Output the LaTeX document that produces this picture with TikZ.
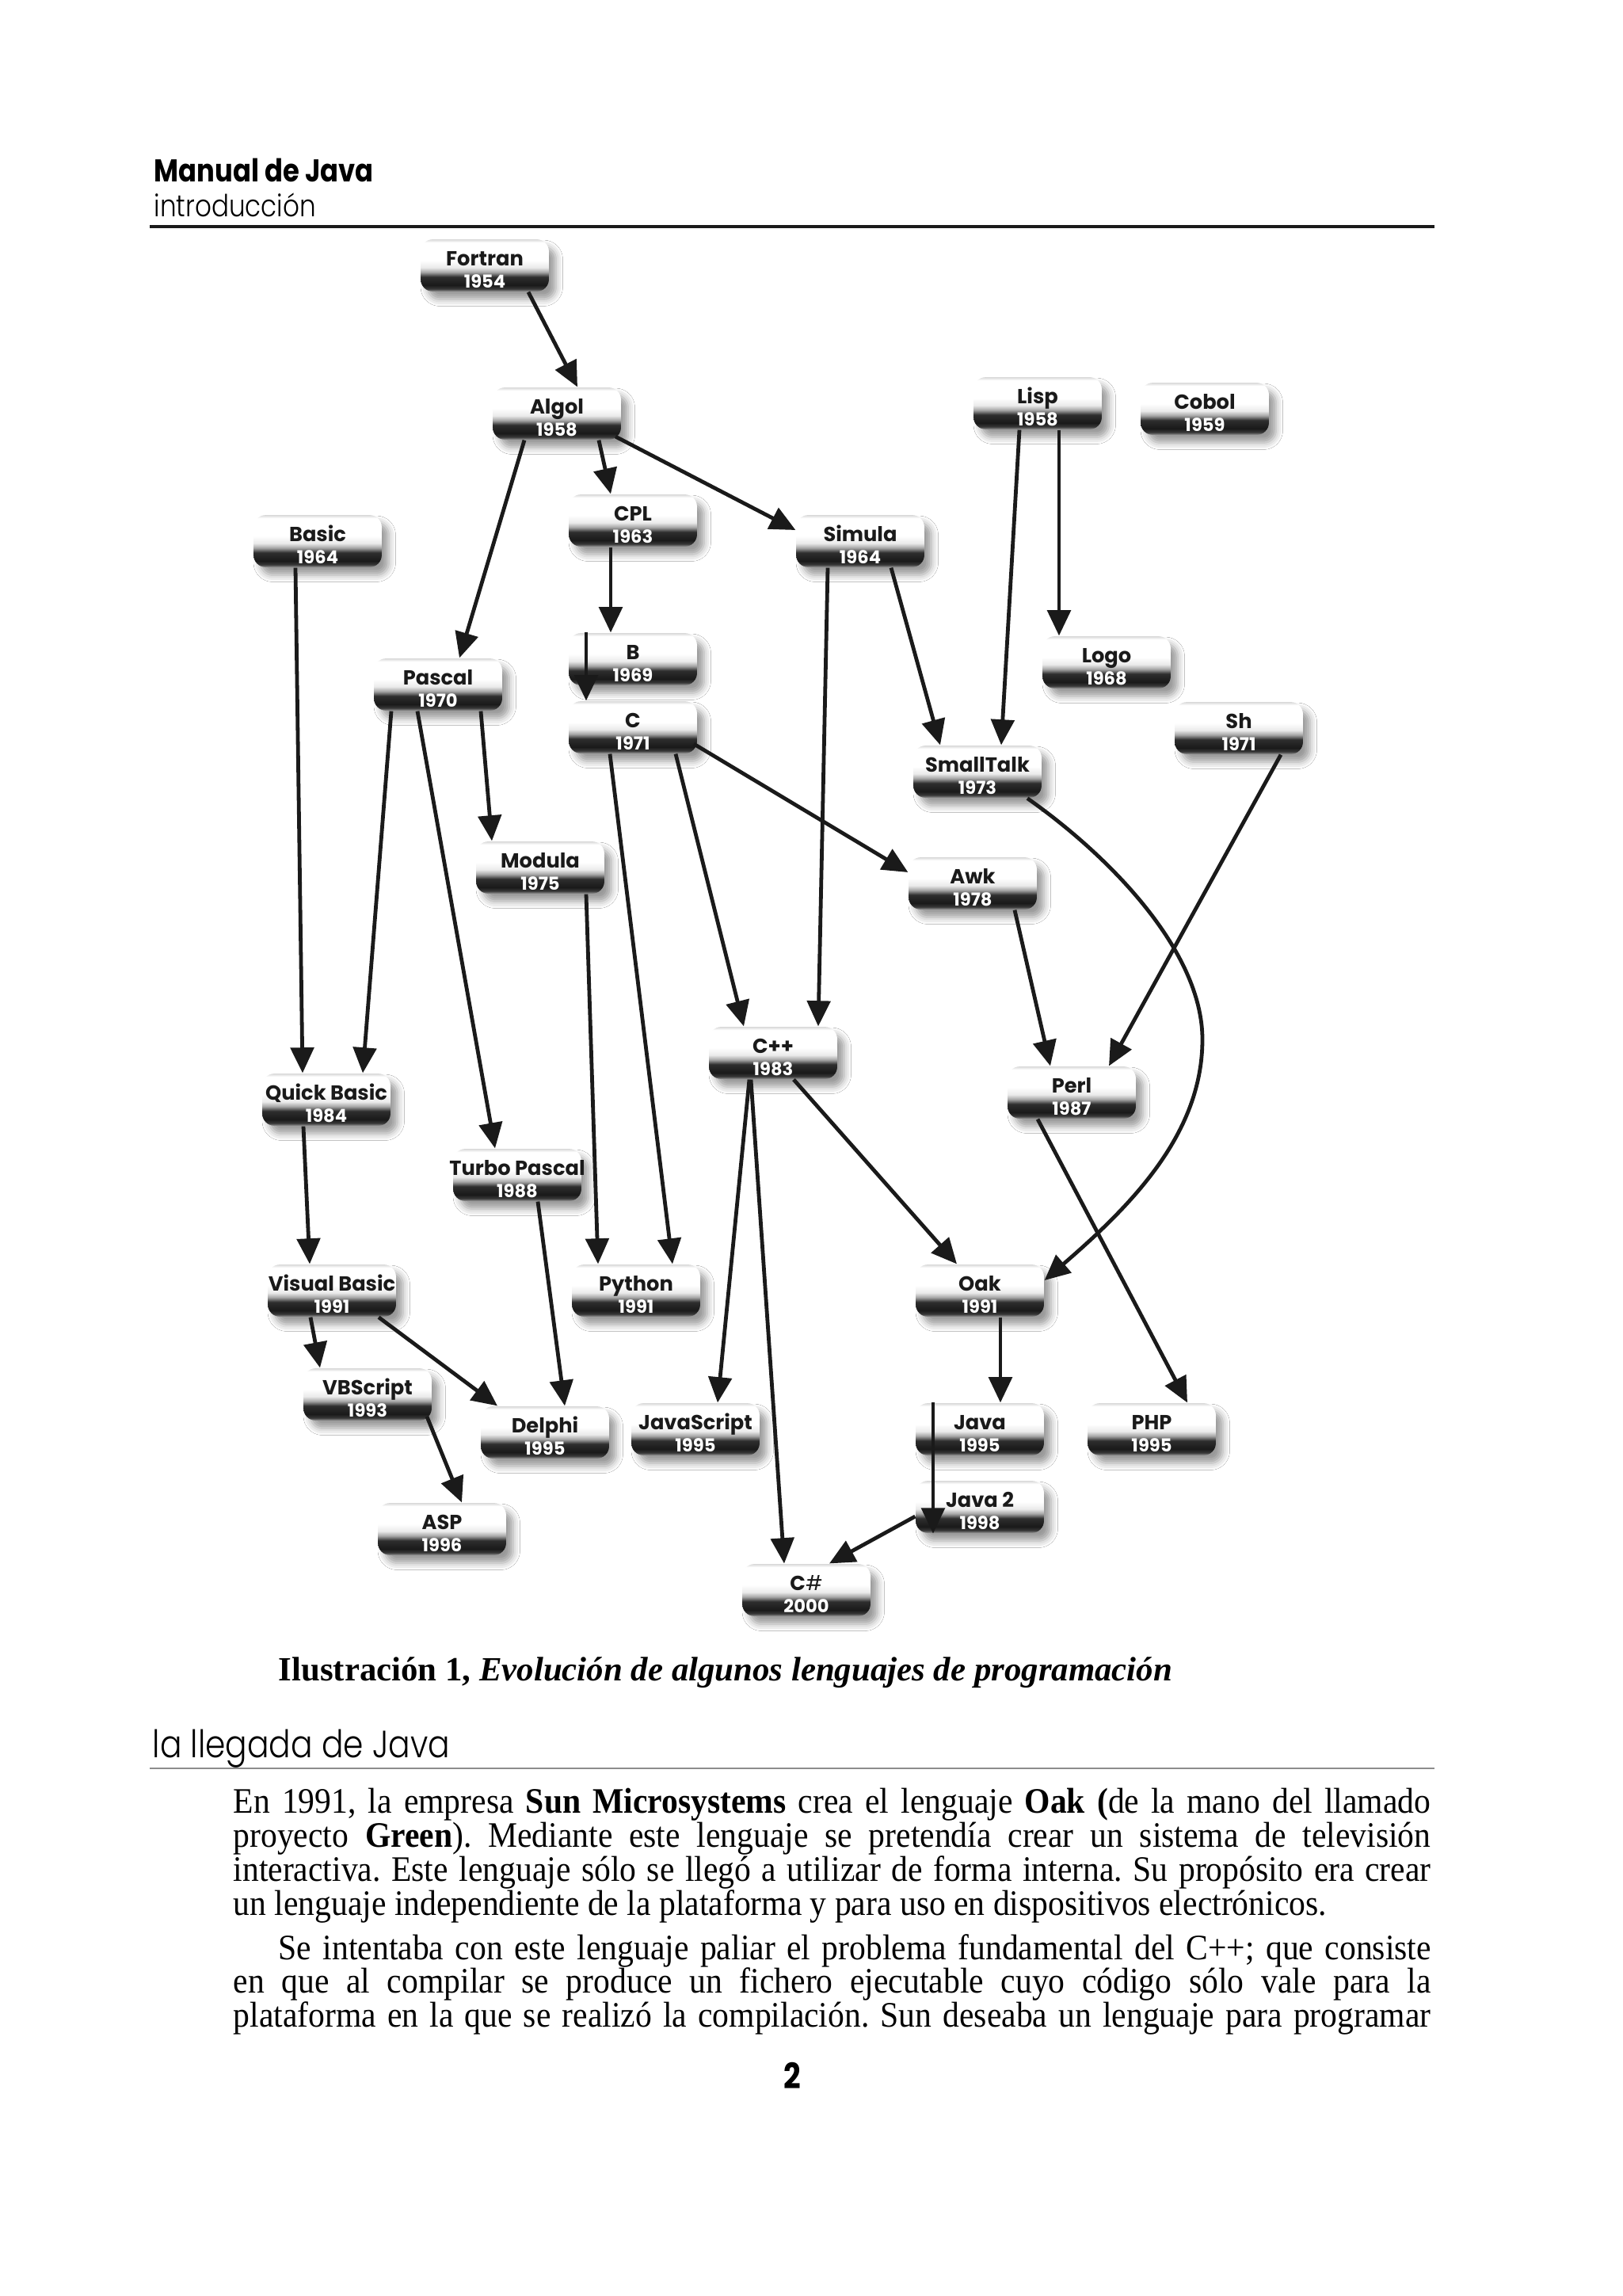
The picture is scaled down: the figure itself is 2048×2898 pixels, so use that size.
\documentclass[tikz,border=0pt]{standalone}
\usepackage{fontspec}
\setmainfont{Liberation Serif}[FakeStretch=0.92]
\newfontfamily\capfont{Liberation Serif}
\newfontfamily\futura{Poppins}
\newfontfamily\futurahead{Poppins}[FakeStretch=0.85]
\newfontfamily\futuralight{Poppins Light}[FakeStretch=0.85]
\usetikzlibrary{arrows.meta,calc,shadows.blur}
\definecolor{ink}{HTML}{1A1A1A}
\definecolor{rulegray}{HTML}{8C8C8C}
\pgfdeclareverticalshading{pillshade}{100bp}{%
  color(0bp)=(black!40); color(25bp)=(black!40); color(27.5bp)=(black!78);
  color(31bp)=(black!90); color(39bp)=(black!82); color(43.5bp)=(black!35);
  color(48bp)=(black!8); color(55bp)=(white); color(72bp)=(white);
  color(75bp)=(black!15); color(100bp)=(black!15)}
\tikzset{
  pill/.style={rounded corners=4.5pt,minimum width=16.6mm,minimum height=6.75mm,
               inner sep=0pt,shading=pillshade,
               blur shadow={shadow xshift=0.9mm,shadow yshift=-1.0mm,
                            shadow blur radius=0.9mm,shadow opacity=40}},
  langname/.style={font=\futura\bfseries\fontsize{7.5}{8}\selectfont,
                   text=ink,inner sep=0pt,anchor=base},
  langyear/.style={font=\futura\bfseries\fontsize{6.6}{8}\selectfont,
                   text=white,inner sep=0pt,anchor=base},
  evol/.style={-{Triangle[length=3.3mm,width=3.0mm]},line width=1.4pt,draw=ink},
  bodyline/.style={anchor=base west,inner sep=0pt,font=\fontsize{13.2}{15}\selectfont}
}
\frenchspacing

\begin{document}
\begin{tikzpicture}[x=0.10254mm,y=-0.10254mm]
  \fill[white] (0,0) rectangle (2048,2898);
  \useasboundingbox (0,0) rectangle (2048,2898);

  % running head
  \node[anchor=base west,inner sep=0pt,font=\futurahead\bfseries\fontsize{11.6}{13}\selectfont]
    (title) at (194,229) {Manual de Java};
  \node[anchor=base west,inner sep=0pt,font=\futuralight\fontsize{11.2}{13}\selectfont]
    (subtitle) at (194,273) {introducción};
  \draw[ink,line width=1pt] (189,286) -- (1811,286);

  % the languages
  \foreach \id/\x/\y/\nm/\yr in {
      fortran/612/335/Fortran/1954, algol/703/522/Algol/1958,
      lisp/1310/509/Lisp/1958, cobol/1521/516/Cobol/1959,
      cpl/799/657/CPL/1963, basic/401/683/Basic/1964,
      simula/1086/683/Simula/1964, b/799/832/B/1969,
      logo/1397/836/Logo/1968, pascal/553/864/Pascal/1970,
      c/799/918/C/1971, sh/1564/919/Sh/1971,
      smalltalk/1234/974/SmallTalk/1973, modula/682/1095/Modula/1975,
      awk/1228/1115/Awk/1978, cpp/976/1329/C++/1983,
      quickbasic/412/1388/Quick Basic/1984, perl/1353/1379/Perl/1987,
      turbopascal/653/1483/Turbo Pascal/1988,
      visualbasic/419/1629/Visual Basic/1991, python/803/1629/Python/1991,
      oak/1237/1629/Oak/1991, vbscript/464/1760/VBScript/1993,
      delphi/688/1808/Delphi/1995, javascript/878/1804/JavaScript/1995,
      java/1237/1804/Java/1995, php/1454/1804/PHP/1995,
      javatwo/1237/1902/Java 2/1998, asp/558/1930/ASP/1996,
      csharp/1018/2007/{C{\mdseries\#}}/2000} {
    \node[pill] (\id) at (\x,\y) {};
    \node[langname] (\id-n) at (\id.center) {\nm};
    \node[langyear] (\id-y) at ($(\id.center)+(0,28)$) {\yr};
  }

  % descent
  \draw[evol] ($(fortran.south)+(55,0)$) -- ($(algol.north)+(26,0)$);
  \draw[evol] ($(algol.south)+(-41,0)$) -- ($(pascal.north)+(27,0)$);
  \draw[evol] ($(algol.south)+(53,0)$) -- ($(cpl.north)+(-28,0)$);
  \draw[evol] ($(algol.center)+(74,29)$) -- ($(simula.west)+(0,-14)$);
  \draw[evol] ($(cpl.south)+(-28,0)$) -- ($(b.north)+(-28,0)$);
  \draw[evol] ($(b.north)+(-59,0)$) -- ($(c.north)+(-59,0)$);
  \draw[evol] ($(basic.south)+(-28,0)$) -- ($(quickbasic.north)+(-30,0)$);
  \draw[evol] ($(pascal.south)+(-59,0)$) -- ($(quickbasic.north)+(46,0)$);
  \draw[evol] ($(pascal.south)+(-26,0)$) -- ($(turbopascal.north)+(-28,0)$);
  \draw[evol] ($(pascal.south)+(54,0)$) -- ($(modula.north)+(-61,0)$);
  \draw[evol] ($(modula.south)+(58,0)$) -- ($(python.north)+(-48,0)$);
  \draw[evol] ($(c.south)+(-29,0)$) -- ($(python.north)+(46,0)$);
  \draw[evol] ($(c.south)+(54,0)$) -- ($(cpp.north)+(-37,0)$);
  \draw[evol] ($(c.center)+(77,21)$) -- ($(awk.west)+(0,-14)$);
  \draw[evol] ($(simula.south)+(-41,0)$) -- ($(cpp.north)+(57,0)$);
  \draw[evol] ($(simula.south)+(39,0)$) -- ($(smalltalk.north)+(-47,0)$);
  \draw[evol] ($(lisp.south)+(-23,0)$) -- ($(smalltalk.north)+(30,0)$);
  \draw[evol] ($(lisp.south)+(27,0)$) -- ($(logo.north)+(-60,0)$);
  \coordinate (st-bend) at (1518,1312);
  \draw[evol] ($(smalltalk.south)+(63,0)$) .. controls (1400,1080) and (1518,1200) .. (st-bend)
    .. controls (1518,1430) and (1430,1520) .. ($(oak.east)+(0,-13)$);
  \draw[evol] ($(sh.south)+(53,0)$) -- ($(perl.north)+(47,0)$);
  \draw[evol] ($(awk.south)+(53,0)$) -- ($(perl.north)+(-27,0)$);
  \draw[evol] ($(cpp.south)+(26,0)$) -- ($(oak.north)+(-29,0)$);
  \draw[evol] ($(cpp.south)+(-30,0)$) -- ($(javascript.north)+(28,0)$);
  \draw[evol] ($(cpp.south)+(-28,0)$) -- ($(csharp.north)+(-28,0)$);
  \draw[evol] ($(perl.south)+(-43,0)$) -- ($(php.north)+(45,0)$);
  \draw[evol] ($(oak.south)+(26,0)$) -- ($(java.north)+(26,0)$);
  \draw[evol] ($(java.north)+(-59,0)$) -- ($(javatwo.south)+(-59,0)$);
  \draw[evol] ($(javatwo.west)+(0,12)$) -- ($(csharp.north)+(29,0)$);
  \draw[evol] ($(quickbasic.south)+(-29,0)$) -- ($(visualbasic.north)+(-28,0)$);
  \draw[evol] ($(visualbasic.south)+(-27,0)$) -- ($(vbscript.north)+(-60,0)$);
  \draw[evol] ($(visualbasic.south)+(59,0)$) -- ($(delphi.north)+(-60,0)$);
  \draw[evol] ($(turbopascal.south)+(26,0)$) -- ($(delphi.north)+(25,0)$);
  \draw[evol] ($(vbscript.center)+(75,28)$) -- ($(asp.north)+(25,0)$);

  % caption and text
  \node[anchor=base west,inner sep=0pt,font=\capfont\fontsize{12.5}{15}\selectfont\bfseries]
    (caption) at (351,2121) {Ilustración 1, \textit{Evolución de algunos lenguajes de programación}};
  \node[anchor=base west,inner sep=0pt,font=\futuralight\fontsize{14}{16}\selectfont]
    (sectitle) at (192,2218) {la llegada de Java};
  \draw[rulegray,line width=0.6pt] (189,2232) -- (1811,2232);

  \node[bodyline] (l1) at (294,2288) {\makebox[155mm][s]{En 1991, la empresa \textbf{Sun Microsystems} crea el lenguaje \textbf{Oak (}de la mano del llamado}};
  \node[bodyline] (l2) at (294,2331) {\makebox[155mm][s]{proyecto \textbf{Green}). Mediante este lenguaje se pretendía crear un sistema de televisión}};
  \node[bodyline] (l3) at (294,2374) {\makebox[155mm][s]{interactiva. Este lenguaje sólo se llegó a utilizar de forma interna. Su propósito era crear}};
  \node[bodyline] (l4) at (294,2417) {un lenguaje independiente de la plataforma y para uso en dispositivos electrónicos.};
  \node[bodyline] (l5) at (351,2473) {\makebox[149.2mm][s]{Se intentaba con este lenguaje paliar el problema fundamental del C++; que consiste}};
  \node[bodyline] (l6) at (294,2515) {\makebox[155mm][s]{en que al compilar se produce un fichero ejecutable cuyo código sólo vale para la}};
  \node[bodyline] (l7) at (294,2558) {\makebox[155mm][s]{plataforma en la que se realizó la compilación. Sun deseaba un lenguaje para programar}};

  \node[inner sep=0pt,font=\futurahead\bfseries\fontsize{13}{15}\selectfont] (pagenum) at (1000,2620) {2};
\end{tikzpicture}
\end{document}
